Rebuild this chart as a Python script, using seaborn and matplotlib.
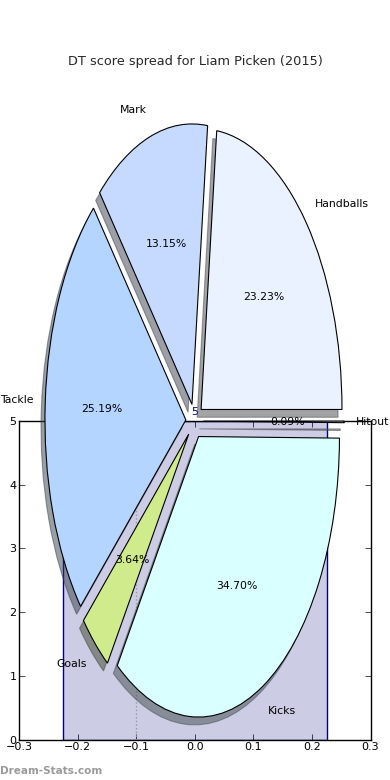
import matplotlib
matplotlib.use("Agg")
import matplotlib.pyplot as plt
import seaborn as sns

# ---- data ----
title = "DT score spread for Liam Picken (2015)"
categories = ["Handballs", "Mark", "Tackle", "Goals", "Kicks", "Hitout"]
shares = [23.23, 13.15, 25.19, 3.64, 34.70, 0.09]
slice_colors = ["#EBF2FF", "#C6DAFF", "#B4D5FF", "#D0EB8B", "#DAFFFF", "#F2F2FF"]

bar_x = [0.0]
bar_height = [5]
bar_labels = ["5"]
marker_x = [-0.1]
xticks = [-0.3, -0.2, -0.1, 0.0, 0.1, 0.2, 0.3]
yticks = [0, 1, 2, 3, 4, 5]

sns.set_style("ticks", {"xtick.direction": "in", "ytick.direction": "in"})
plt.rcParams["font.family"] = ["DejaVu Sans"]

fig = plt.figure(figsize=(3.9, 7.8), dpi=100)

# ---- background distribution axes ----
ax = fig.add_axes([0.0495, 0.0519, 0.9005, 0.4083])
ax.bar(bar_x, bar_height, width=0.45, color=("navy", 0.2), edgecolor="navy",
       linewidth=1.0, zorder=1)
for bx, bh, bl in zip(bar_x, bar_height, bar_labels):
    ax.text(bx, bh + 0.06, bl, ha="center", va="bottom", color="navy", fontsize=8)
for mx in marker_x:
    ax.axvline(mx, color="#999999", linestyle=":", linewidth=1.0, zorder=2)
ax.set_xlim(-0.3, 0.3)
ax.set_ylim(0, 5)
ax.set_xticks(xticks)
ax.set_yticks(yticks)
ax.set_xticklabels(["\u22120.3", "\u22120.2", "\u22120.1", "0.0", "0.1", "0.2", "0.3"])
ax.tick_params(axis="both", which="both", direction="in", length=4, width=0.5,
               labelsize=8, top=True, right=True, colors="black", pad=2)
for s in ax.spines.values():
    s.set_visible(True)
    s.set_linewidth(1.0)
    s.set_color("black")
ax.set_facecolor("white")

# ---- pie axes on top ----
pax = fig.add_axes([0, 0, 1, 1])
pax.patch.set_alpha(0)
wedges, texts, autotexts = pax.pie(
    shares, labels=categories, colors=slice_colors, explode=[0.062] * len(shares),
    autopct="%1.2f%%", shadow=True, startangle=0, counterclock=True,
    wedgeprops={"edgecolor": "black", "linewidth": 0.8},
    textprops={"fontsize": 7.8, "color": "black"},
)
for t in texts:
    px, py = t.get_position()
    t.set_position((px * 0.985, py))
pax.set_aspect("auto")
pax.set_xlim(-1.381, 1.387)
pax.set_ylim(-1.2795, 1.501)
pax.axis("off")

fig.text(0.5, 1 - 61 / 780, title, ha="center", va="center", fontsize=9.3)
fig.text(0.0, 1 - 771 / 780, "Dream-Stats.com", ha="left", va="center",
         fontsize=7.5, color="#9a9a9a", fontweight="bold")

fig.savefig("out.png", dpi=100)
